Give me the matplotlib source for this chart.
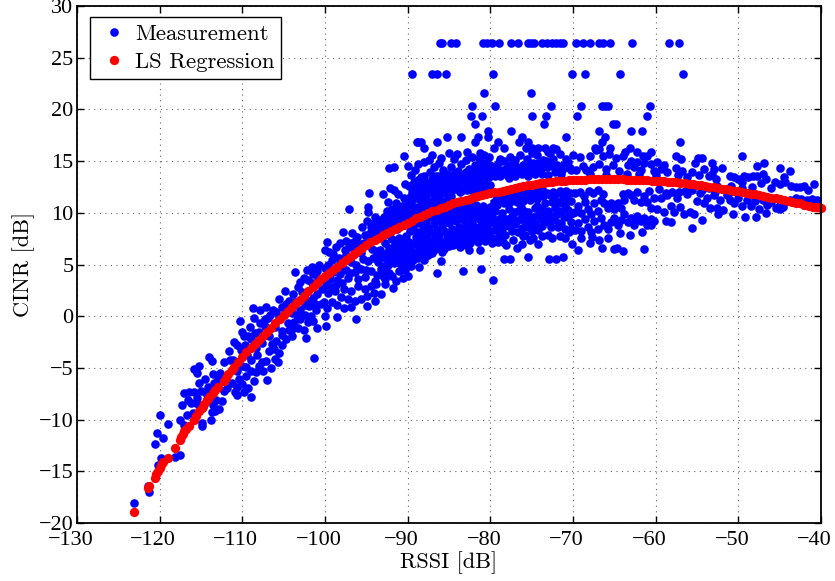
import matplotlib
matplotlib.use("Agg")
import matplotlib.pyplot as plt
from matplotlib.transforms import ScaledTranslation

plt.rcParams['font.family'] = ['cmr10', 'DejaVu Serif']
plt.rcParams['mathtext.fontset'] = 'cm'
plt.rcParams['axes.unicode_minus'] = False
plt.rcParams['axes.formatter.use_mathtext'] = True

top_row_x = [-86.1,-85.8,-84.8,-84.1,-80.9,-80.4,-79.8,-78.9,-77.5,-76.6,-75.5,-75.1,-74.7,-73.8,-73.2,-72.5,-72.0,-71.6,-71.2,-69.6,-68.8,-67.9,-66.8,-66.4,-65.5,-62.9,-58.4,-57.2]
top_row_y = [26.4]*len(top_row_x)
second_row_x = [-89.5,-87.0,-86.5,-85.4,-79.7,-70.1,-68.5,-64.3,-56.7]
second_row_y = [23.4]*len(second_row_x)

outliers = [(-80.8,21.6),(-75.1,21.6),(-82.2,20.3),(-79.4,20.3),(-72.7,20.3),(-69,20.3),(-66.5,20.3),(-66.1,20.3),(-65.8,20.3),(-60.7,20.3),
(-82.3,19.4),(-81,19.4),(-74.9,19.4),(-73.3,19.4),(-69.5,19.4),(-61,19.4),(-81.9,18.6),(-73.5,18.6),(-65.2,18.6),(-64.8,18.6),
(-80.3,17.9),(-77.5,17.9),(-66.8,17.9),(-63,17.9),(-61.7,17.9),(-80.3,17.3),(-81.5,17.3),(-83.6,17.3),(-85.3,17.3),(-76.2,17.3),(-70.9,17.3),(-66.1,17.3),
(-88.7,16.8),(-88.4,16.8),(-86.5,16.8),(-81.8,16.8),(-79.1,16.8),(-76.5,16.8),(-75.4,16.8),(-66.5,16.8),(-57,16.8),(-88,16.3),(-79.6,16.3),(-78.3,16.3),(-75.7,16.3),
(-74.9,16.3),(-74.2,16.3),(-73.4,16.3),(-72.4,16.3),(-72.0,16.2),(-67.3,16.3),(-66.8,16.2),(-65.5,16.3),(-63.1,16.3),(-62.3,15.9),(-63.7,15.9),(-60.6,15.9),(-61.5,15.5)]

low_edge = [(-79.7,3.5),(-90,3.9),(-86.5,4.2),(-83.3,4.4),(-81.1,4.6),(-88.6,4.8),(-90.5,4.9),(-91,5.1),(-86,5.3),(-88,5.4),(-78.4,5.5),(-77.6,5.5),(-75.5,5.7),(-72.9,5.5),(-72,5.5),(-71.2,5.7),
(-69.4,6.4),(-66.5,6.6),(-65,6.5),(-64.7,6.6),(-64,6.3),(-61.4,6.5),(-70.1,7),(-68,7.1),(-74.2,7),(-76.8,6.6),(-76.2,7),(-82.6,6.4),(-81.2,6.4),(-83.7,6.7),(-55.6,8.5),(-54.4,9.3),(-58.1,9.1),(-58.8,9.2),(-64.3,8),(-63.1,7.9),(-61.7,8.1),(-72.6,7.6),(-71,7.6),(-69,7.6),(-67.7,7.7),(-66.9,7.4),(-65.8,7.6),(-89.3,6),(-87.5,5.9),(-84.5,6.9),(-78.5,7.2),(-79.8,7.1),(-74.8,7.6),(-60.2,9.2),(-60.6,8.8),(-62.5,9.4)]

band_a = [(-123.1,-18.06),(-121.4,-16.4),(-121.3,-17),(-120,-9.6),(-119,-10.4),(-120.3,-11.3),(-119.6,-11.8),(-120.6,-12.4),(-119.8,-13.7),(-120.2,-14.4),(-118.1,-13.6),(-117.6,-13.4),
(-117.3,-8.6),(-116.7,-9.6),(-117.5,-10),(-117,-10.5),(-117.1,-7.4),(-116.5,-7.3),(-115.8,-7.3),(-115,-7.2),(-115.3,-6.5),(-114.5,-6.1),(-113.5,-5.6),(-115.8,-5.1),(-115.3,-4.8),(-115.5,-5.5),(-114,-3.9),(-113.7,-4.3),
(-115.6,-8.4),(-115.3,-8.6),(-114.7,-8.8),(-114.3,-8),(-115.5,-7.9),(-114.9,-10.3),(-114.9,-10.6),(-113.8,-10),(-113.3,-9.2),(-112.8,-9),(-112.2,-7.2),(-113.4,-6.5),(-113.7,-9.3),(-113.2,-8.1),(-114.1,-6.8),(-113,-6.1),(-112.2,-4.4),(-111.5,-4.2),(-111,-2.5),
(-110.3,-0.5),(-110,-1.5),(-109.3,-1.9),(-109.7,-2.8),(-108.6,-0.2),(-108.7,0.8),(-107.9,0.6),(-107.1,0.9),(-105.6,1.7),(-104.8,2.4),(-103.6,4.3),(-102.2,4.5),(-101.6,4.8),(-99.7,7.2),(-100,6.4),
(-110.6,-7.6),(-109,-7.8),(-109.8,-7.3),(-110.9,-7.3),(-108.6,-6.3),(-107,-6.2),(-107.5,-5.3),(-105.7,-4.4),(-101.3,-4),(-104,-1.9),(-102.3,-2.1),(-101,-1.1),(-99.9,-0.9),(-98.5,-0.1),(-96.2,-0.3),(-100,0),(-97.7,0.8),(-96.8,0.9),(-94.9,1),(-94,1.5),(-91.8,2.7),(-93.8,3.1),(-92.8,3.1),
(-111.2,-6.5),(-110.7,-6.8),(-110.4,-6.1),(-110,-6.6),(-109.6,-5.8),(-109.3,-6.9),(-110.6,-5.3),(-110.1,-4.8),(-109.5,-4.9),(-109,-5.3),(-108.4,-5.4),(-108,-4.8),(-108.9,-4.2),(-108.2,-3.8),(-107.6,-4.4),(-107.1,-4.3),(-106.5,-5),(-106.1,-4.1),(-106.8,-3.4),(-106.2,-3.2),(-105.6,-3.6),(-105.2,-2.8),(-105.9,-2.4),
(-109.1,-1),(-108.5,-1.6),(-107.9,-0.7),(-107.3,-0.9),(-106.7,0.1),(-106.9,-0.2),(-106.3,0.6),(-105.9,0.4),(-105.2,0.9),(-104.7,1.2),(-104.3,1.5),(-103.9,2.1),(-103.3,2.8),(-103,3.3),(-102.5,3.7),(-102,3.5),(-101.5,4.1),(-101,4.4),
(-105.2,-1.8),(-104.7,-2.2),(-104.3,-1.3),(-103.8,-0.6),(-103.3,-1.1),(-103,-0.3),(-102.6,-1.3),(-102.1,-0.6),(-101.7,0),(-101.4,-0.5),(-104.5,-0.7),(-104,0.3),(-103.4,0.1),(-103,0.6),(-102.4,1.1),(-101.9,1),(-101.5,1.8),(-101,2.1),(-100.5,1.2),(-100.1,1.4),(-99.7,0.8),(-101.1,0.6)]

band_a2 = [(-111.6,-3.4),(-111.1,-4.2),(-110.7,-2.8),(-110.2,-3.3),(-109.8,-1.9),(-109.4,-3.8),(-108.9,-2.2),(-108.4,-3.1),(-108,-1.5),(-107.6,-2.6),(-107.2,-0.3),(-106.8,-1.9),(-106.4,-2.7),(-106,-1),(-105.6,-0.1),(-105.2,-1.4),(-104.8,0.3),(-104.4,1),(-104,-1.2),(-103.6,1.4),(-103.2,-0.1),(-102.8,2.3),(-102.4,0.1),(-102,1.5),(-101.6,3.2),(-101.2,1.2),(-100.8,3.6),(-100.4,2.6),(-100,4.7),(-99.9,3),(-100.7,5),(-99.6,5),(-99.1,2.8),(-98.7,3),(-98.3,5),(-97.9,4.8),(-97.4,5.9),(-97,4.2),(-96.6,5.9),(-96.2,5),(-95.8,7),(-95.4,5.5),(-95,4.5),(-94.6,7.5),(-94.2,5.6),(-93.8,6.3),(-93.4,8),(-93,3.9),(-92.6,4.4),(-92.2,7.9),(-91.8,6.2),(-91.4,5.8),(-91,7),(-90.6,9.8),(-90.2,6.9),(-89.8,7.2),(-99,6),(-98.2,7.1),(-97.6,6.4),(-96.8,7.1),(-96.1,7.7),(-95.3,7.1),(-94.6,8),(-114.4,-7.4),(-113.8,-7),(-112.7,-5.5),(-112.4,-8.2),(-111.8,-6.9),(-113.6,-8.6),(-116.2,-8.4),(-116,-9.4),(-116.6,-8.1)]

band_b = [(-99.5,6.2),(-99.2,5.4),(-98.7,6.7),(-98.3,5.6),(-97.8,8.1),(-97.5,7.3),(-97.1,6.7),(-97.1,10.4),(-96.7,8),(-96.4,7.3),(-96,6.4),(-95.5,8.6),(-95.2,7.9),(-94.9,9.2),(-94.8,10.6),(-94.8,10.1),(-94.7,11.9),(-94.4,8.6),(-94,8.3),(-93.6,9.1),(-93.3,8.6),(-93,11.8),(-92.9,9.6),(-92.5,10.2),(-92.2,14.3),(-91.7,14.4),(-92.1,12.4),(-91.6,12.2),(-91.2,11.8),(-90.5,15.5),(-90,14.5),(-90.3,12.8),(-89.8,12.6),(-92.4,11),(-91.9,10.4),(-91.4,10.9),(-90.9,10.2),(-90.4,11.4),(-90.1,10.8),(-91.2,9.8),
(-99.6,2.2),(-99.2,1.4),(-98.8,2.4),(-98.5,1.1),(-98.1,1.9),(-97.7,2.6),(-97.2,1.7),(-96.8,2.4),(-96.4,1.5),(-96,2.9),(-95.6,1.7),(-95.2,2.6),(-94.9,2),(-94.4,2.9),(-94.1,2.2),(-93.7,4),(-93.2,2.1),(-92.7,3.6),(-92.3,4.2),(-91.9,3.9),(-91.4,3.4),(-91,4.4),(-90.6,3.7),(-90.3,4.5),(-89.9,5.1),
(-99.4,3.6),(-99,4.3),(-98.6,3.5),(-98.2,4.1),(-97.9,3.2),(-97.5,4.5),(-97.2,3.7),(-96.8,5.2),(-96.4,4.3),(-96,3.6),(-95.6,4.6),(-95.2,3.8),(-94.8,5.3),(-94.4,4.4),(-94,3.4),(-93.6,5.2),(-93.2,4.6),(-92.8,5.6),(-92.4,5),(-92,5.9),(-91.6,5.1),(-91.2,6.1),(-90.8,5.5),(-90.4,6.4),(-90,6.2),
(-96.5,6.7),(-95.6,6.1),(-95,6.9),(-94.3,6.5),(-93.8,7.7),(-93.3,6.4),(-92.7,7.1),(-92.3,6.6),(-91.9,7.5),(-91.5,7),(-91,7.6),(-90.6,7.2),(-90.2,7.8),(-92.9,8.2),(-92.4,8.6),(-91.8,8.9),(-91.3,8.4),(-90.7,8.8),(-90.3,9.2),(-89.8,9.6),(-92,9.6),(-90.9,9.5),(-91.5,9.2),
(-89.7,11.5),(-89.5,12),(-89.2,13),(-89.1,14.1),(-88.9,16.8),(-88.7,14.7),(-88.4,13.5),(-88,14.9),(-87.7,12.7),(-87.3,13.9),(-87.1,15.6),(-86.8,14.4),(-86.4,13.2),(-86,15.3),(-85.7,14.1)]

band_c = [(-89.6,4.9),(-89.3,7),(-89.1,6.2),(-88.8,5.6),(-88.5,7.3),(-88.2,6.4),(-87.9,7.6),(-87.6,6.6),(-87.3,7),(-87,6.1),(-86.7,7.7),(-86.3,6.8),(-85.9,7.2),(-85.6,6.5),(-85.3,7.6),(-84.9,7.1),(-84.5,7.8),(-84.1,7.4),(-83.7,7.9),(-83.2,7.4),(-82.8,7.7),(-82.4,7.1),(-82,7.6),(-81.5,7.2),(-81,7.7),(-80.6,7.3),(-80.2,7.9),
(-89.7,8.2),(-89.3,8.6),(-88.9,8.1),(-88.6,9),(-88.2,8.4),(-87.8,9.1),(-87.5,8.5),(-87.2,9.6),(-86.8,8.9),(-86.5,8.3),(-86.1,9.2),(-85.8,8.6),(-85.4,9.7),(-85,9),(-84.6,8.4),(-84.2,9.2),(-83.8,8.6),(-83.4,9.4),(-83,8.8),(-82.6,8.4),(-82.2,9.1),(-81.8,8.6),(-81.4,9.4),(-81,8.9),(-80.6,8.4),(-80.2,9.1),
(-89.5,10.1),(-89.1,10.6),(-88.8,9.9),(-88.4,11),(-88.1,10.2),(-87.8,11.3),(-87.4,10.7),(-87,11.1),(-86.7,10.4),(-86.3,11.5),(-85.9,10.4),(-85.5,11.9),(-85.1,10.3),(-84.7,11.6),(-84.3,10.2),(-83.9,10.6),(-83.5,10.1),(-83.1,10.5),(-82.7,10.1),(-82.3,10.5),(-81.9,9.9),(-81.5,10.4),(-81.1,9.9),(-80.7,10.4),(-80.3,10),
(-89.3,12.7),(-89,11.9),(-88.6,12.2),(-88.2,12.9),(-87.9,12.1),(-87.1,12.5),(-86.6,12.8),(-86.2,12.2),(-85.7,12.7),(-85.3,12.4),(-85,13.5),(-84.6,12.6),(-84.2,13),(-83.8,12.5),(-83.4,13.6),(-83,12.8),(-82.6,13.3),(-82.2,12.6),(-81.8,13.7),(-81.4,13),(-81,13.6),(-80.6,12.8),(-80.2,13.5),
(-85.3,13.8),(-84.8,14.4),(-84.4,15.2),(-83.9,14),(-83.5,14.7),(-83,15.1),(-82.6,14.2),(-82.2,15.4),(-81.8,14.6),(-81.4,15.3),(-81,14.1),(-80.6,14.8),(-80.2,15.4),(-84,15.7),(-82.8,15.9),(-81.3,15.8),(-80.8,15.6),(-85,15.8),(-86.2,14.8),(-87.4,15.1)]

band_c2 = [(-89.4,5.5),(-89,7.7),(-88.6,6.9),(-88.3,8),(-88,5.9),(-87.7,7.9),(-87.4,6.3),(-87,8.1),(-86.6,7.3),(-86.2,7.9),(-85.8,6.2),(-85.4,8.1),(-85,6.8),(-84.7,7.3),(-84.3,8.2),(-83.9,7.1),(-83.5,8.1),(-83,6.9),(-82.6,8),(-82.2,7.4),(-81.8,8),(-81.3,7.7),(-80.9,8.1),(-80.4,7.6),
(-89.5,9.2),(-89,9.6),(-88.7,10.4),(-88.3,9.6),(-87.9,9.9),(-87.6,9.8),(-87.2,10.2),(-86.9,9.6),(-86.5,9.7),(-86.2,10),(-85.7,9.3),(-85.2,9.6),(-84.8,9.9),(-84.4,9.5),(-84,9.9),(-83.6,9.8),(-83.2,9.3),(-82.9,9.8),(-82.5,9.6),(-82.1,9.5),(-81.7,9.7),(-81.3,8.3),(-80.9,9.5),(-80.5,9.8),(-80.1,9.4),
(-88.9,11.4),(-88.5,11.7),(-88,11.6),(-87.5,11.9),(-87,12),(-86.5,12),(-85.9,11.9),(-85.6,12.2),(-85.1,12.1),(-84.7,12.1),(-84.2,12.3),(-83.7,12),(-83.3,12.2),(-82.8,12.2),(-82.3,12.2),(-81.9,12.3),(-81.5,12.4),(-81,12.5),(-80.5,12.5),(-80,12.7),
(-89.6,13.7),(-88.8,13.2),(-88,13.6),(-87,13.3),(-86.2,13.6),(-85.5,13.1),(-84.4,13.8),(-83,13.9),(-82.2,13.9),(-81.4,13.9),(-80.4,14.1)]

band_c3 = [(-94.3,8.9),(-93.9,9.6),(-93.4,9.3),(-93,8.9),(-92.6,9.1),(-92.2,8.9),(-91.7,9.8),(-91.1,10.4),(-90.7,10.7),(-90.4,10),(-90,10),(-89.6,11),(-89.2,11.4),(-88.9,12.5),(-88.4,12.6),(-87.9,13),(-87.5,12.4),(-87,13),(-86.6,13.6),(-86.1,13),(-85.6,13.4),(-85.2,13),(-84.6,13.3),(-84.1,13.4),(-83.7,13.2),(-83.2,13.6),(-82.8,13.5),(-82.4,13.9),(-81.9,13.2),(-81.6,14.2),(-81.1,14.7),(-80.5,13.5),(-80.1,14.6),
(-93.5,5.7),(-93.1,6),(-92.9,4.9),(-92.5,6.1),(-92.1,5.2),(-91.7,6.5),(-91.3,5.3),(-90.9,6.5),(-90.5,5.9),(-90.1,5.6),(-89.7,6.5),(-89.3,5.4),(-88.9,7),(-88.6,6.2),(-88.2,7),(-87.8,6.9),(-87.5,7.4),(-87.2,6.5),(-86.8,6.4),(-86.4,7.3),(-86,6.7),(-85.6,7.1),(-85.2,7.3),(-84.8,8.1),(-84.2,7.7),(-83.8,8.3),(-83.4,7.8),(-82.9,8.3),(-82.5,7.8),(-82.1,8.3),(-81.6,8),(-81.2,8.6),(-80.8,7.8),(-80.4,8.7),(-80,8.2),
(-89.8,10.4),(-89.4,9.6),(-88.9,10.2),(-88.5,10.4),(-88,10.7),(-87.6,10.3),(-87.2,10.9),(-86.8,11.3),(-86.4,10.8),(-86,11.1),(-85.6,9.9),(-85.2,11.2),(-84.9,10.9),(-84.5,9.9),(-84.1,10.4),(-83.7,9.5),(-83.3,10.8),(-82.9,10.3),(-82.5,10.8),(-82.1,10.2),(-81.7,10.8),(-81.3,10.1),(-80.9,10.7),(-80.5,10.1),(-80.1,10.6)]

band_d = [(-79.8,7.6),(-79.4,8.3),(-79,7.8),(-78.6,8.4),(-78.2,7.9),(-77.8,8.7),(-77.4,8.2),(-77,8.9),(-76.6,8.1),(-76.2,8.5),(-75.8,7.9),(-75.4,8.6),(-75,8.2),(-74.6,8.9),(-74.2,8.3),(-73.8,8.7),(-73.4,9.3),(-73,9.1),(-72.6,9.7),(-72.2,9.3),(-71.8,8.6),(-71.4,9),(-71,8.4),(-70.6,9.6),(-70.2,9.1),
(-79.8,9.6),(-79.4,10.2),(-79,9.4),(-78.6,10),(-78.2,9.4),(-77.8,10.4),(-77.4,9.7),(-77,9.2),(-76.6,10.2),(-76.2,9.6),(-75.8,9.1),(-75.4,10.1),(-75,9.5),(-74.6,10.5),(-74.2,9.8),(-73.8,10.4),(-73.4,10.9),(-73,10.2),(-72.6,11),(-72.2,10.5),(-71.8,10.9),(-71.4,10.2),(-71,10.8),(-70.6,10.3),(-70.2,11.1),
(-79.6,11),(-79.2,10.8),(-78.8,11.1),(-78.4,10.9),(-78,11.2),(-77.6,11),(-77.2,11.3),(-76.8,11),(-76.4,11.5),(-76,11.1),(-75.6,11.6),(-75.2,11.2),(-74.8,11.6),(-74.4,11.3),(-74,11.7),(-73.6,11.6),(-73.2,11.9),(-72.8,11.7),(-72.4,12),(-72,11.8),(-71.6,12.1),(-71.2,11.7),(-70.8,12.1),(-70.4,11.9),
(-79.6,13.9),(-79.2,14.6),(-78.8,13.6),(-78.4,15),(-78,14.3),(-77.6,15.4),(-77.2,13.9),(-76.8,14.4),(-76.4,15.6),(-76,14.6),(-75.6,15.2),(-75.2,14),(-74.8,14.8),(-74.4,15.6),(-74,14.2),(-73.6,15.1),(-73.2,14.4),(-72.8,15.8),(-72.4,15.2),(-72,14.1),(-71.6,15.7),(-71.2,14.6),(-70.8,15.2),(-70.4,14.3),(-70,15.6),(-70.6,14.9),(-78.8,15.2),(-77,15.1),(-75,15.8),(-73,15.9),
(-79.4,13.6),(-78.6,13.9),(-77.8,13.4),(-77,13.6),(-76.2,13.8),(-75.4,13.6),(-74.6,13.8),(-73.8,13.8),(-73,13.7),(-72.2,13.9),(-71.4,13.8)]

band_d2 = [(-79.6,9),(-79.1,8.8),(-78.7,9.1),(-78.3,8.7),(-77.9,9.4),(-77.5,8.9),(-77.1,10.1),(-76.7,9.3),(-76.3,10.6),(-75.9,10.2),(-75.5,9.4),(-75.1,8.9),(-74.7,9.6),(-74.3,10.7),(-73.9,9.4),(-73.5,10.1),(-73.1,9.6),(-72.7,8.6),(-72.3,11.3),(-71.9,9.9),(-71.5,11.1),(-71.1,9.6),(-70.7,11.2),(-70.3,8.4),(-70,10),(-79.3,11.7),(-78.9,11.9),(-78.5,11.6),(-78.1,11.8),(-77.7,11.9),(-77.3,11.8),(-76.9,11.9),(-76.5,12),(-76.1,12.1),(-75.7,12.2),(-75.3,12),(-74.9,12.1),(-74.5,12.2),(-74.1,12.4),(-73.7,12.3),(-79.1,7.2),(-78.1,6.9),(-77.2,7.4),(-76.1,7.8),(-75.2,7.4),(-73.7,7.8),(-73,7.9),(-71.6,7.8),(-70.5,8.1),
(-79.4,14.2),(-79,14.9),(-78.5,14.1),(-78,13.7),(-77.6,14.6),(-77.1,14.7),(-76.6,13.9),(-76.1,14.1),(-75.6,14.5),(-75.1,14.3),(-74.6,14.2),(-74.2,14.8),(-73.7,14.4),(-73.1,15),(-72.5,14.5),(-71.9,14.6),(-71.3,14.1),(-70.7,14.4),(-70.2,14.1)]

band_e = [(-69.8,8.3),(-69.4,9),(-69,8.2),(-68.6,9.4),(-68.2,8.6),(-67.8,8.1),(-67.4,9.2),(-67,8.4),(-66.6,9.5),(-66.2,8.8),(-65.8,8.4),(-65.4,9.1),(-65,9.5),(-64.6,8.8),(-64.2,9.3),(-63.8,9.9),(-63.4,9.1),(-63,9.5),(-62.6,8.8),(-62.2,9.7),(-61.8,9.2),(-61.4,9.5),(-61,8.8),(-60.6,9.4),
(-69.8,10.1),(-69.4,10.7),(-69,10),(-68.6,11),(-68.2,10.4),(-67.8,9.9),(-67.4,10.9),(-67,10.2),(-66.6,11.2),(-66.2,10.9),(-65.8,10.5),(-65.4,10.9),(-65,10.4),(-64.6,10.9),(-64.2,10.5),(-63.8,11.2),(-63.4,11.9),(-63,11.7),(-62.6,11.2),(-62.2,12),(-61.8,11),(-61.4,11.6),(-61,11),(-60.6,10.5),(-60.2,11.4),
(-69.7,11.9),(-69.1,12),(-68.7,11.6),(-68.1,12.1),(-67.6,11.9),(-67,12.2),(-66.4,11.8),(-64,11.8),(-60.8,12.1),
(-69.6,14.1),(-69.2,15.4),(-68.8,14.5),(-68.4,14.1),(-68,15.5),(-67.6,14.4),(-67.2,16.1),(-66.8,14.7),(-66.4,15.5),(-66,14.2),(-65.6,15.7),(-65.2,14.6),(-64.8,15.3),(-64.4,14),(-64,15.5),(-63.4,14.6),(-63,15),(-62.6,14.4),(-62.2,14.9),(-61.8,14.1),(-61.4,14.8),(-61,15.5),(-60.6,14.7),(-60.2,14),(-59.8,14.9),(-59.4,14.2),(-59,14.6),(-58.6,13.9),(-68,13.8),(-66,13.7),(-63.5,13.8),(-62,13.8),(-60,13.7)]

band_f = [(-57.6,15.5),(-56.9,15.2),(-57.5,14.3),(-56.8,14),(-57.3,13.7),(-55.2,14.8),(-54.4,15.3),(-54.9,15.3),(-53.2,14.8),(-53,14.2),(-52,14.3),(-49.6,15.5),(-47.7,14.5),(-46.9,14.8),(-44.9,14.3),(-43.8,14),(-40.9,12.8),(-40.5,11.2),(-41.6,12.2),(-42,12.6),(-46.6,10),(-44.9,10.4),(-44.6,10.6),(-47.9,9.6),(-49.2,9.6),(-50.7,9.9),(-52.4,9.9),
(-59.8,10.4),(-59.4,11.4),(-59,10.1),(-58.6,11.7),(-58.2,10.7),(-57.8,10.1),(-57.4,11.4),(-57,10.6),(-56.6,9.9),(-56.2,11.8),(-55.8,10.1),(-55.4,9.9),(-55,11.1),(-54.6,11.9),(-54.2,10.9),(-53.8,11.4),(-53.4,10.5),(-53,11.7),(-52.6,10.5),(-52.2,11.2),(-51.8,10.3),(-51.4,11.7),(-51,12),
(-59.6,12.3),(-58.8,11.9),(-58,12),(-57.2,12),(-56.4,12.1),(-55.6,12.2),(-54.4,12.2),(-53.6,12.4),(-52.8,12),(-52.6,12.6),
(-56.2,13.5),(-55.6,13.9),(-54.8,13.7),(-54.2,14.2),(-53.6,13.6),(-53.2,13.8),(-52.7,13.3),(-51,13.6),(-50.5,13.5),(-50.1,13.3),(-49.6,13),(-49.3,13.6),(-48.8,13.5),(-48.2,13.6),(-47.7,13.6),(-47,13.8),(-46.7,13.3),(-45.6,13),(-45,12.8),(-44.5,13.5),(-44.3,13),(-43.6,12.6),(-43,12.5),(-42.5,12.5),(-47.3,12.9),(-48.4,12.5),(-46,12.4),(-50.9,12.6),(-49.5,12.4),
(-51,11.2),(-50.5,10.9),(-50,11.4),(-49.5,10.7),(-49,11.2),(-48.5,10.7),(-48,11.1),(-47.5,10.4),(-47,11.2),(-46.5,10.8),(-46,11),(-45.5,10.5),(-45,10.8),(-44.3,11),(-43.7,11.2),(-43,11.4),(-42.4,11.3),(-41.7,11.2),(-41.1,11.3)]

ls_low = [(-123.1,-18.9),(-121.4,-16.6),(-121.3,-16.4),(-120.6,-15.6),(-120.4,-15.3),(-120.2,-15.0),(-120.0,-14.7),(-119.8,-14.4),(-119.6,-14.1),(-119.0,-13.7),(-118.1,-12.7),(-117.6,-12.0),(-117.4,-11.7),(-117.2,-11.4),(-117.0,-11.1),(-116.8,-10.9),(-116.5,-10.6),(-115.8,-10.0),(-115.6,-9.7),(-115.2,-9.2),(-114.9,-8.9),(-114.6,-8.5),(-114.3,-8.1),(-114.0,-7.8),(-113.6,-7.4),(-113.3,-7.1),(-112.9,-6.8),(-112.2,-6.3),(-112.0,-6.0),(-111.7,-5.6),(-111.3,-5.2),(-111.0,-4.9)]
ls_rise = [(-110.5,-4.4),(-110,-3.9),(-109.5,-3.5),(-109,-3.1),(-108.5,-2.7),(-108,-2.3),(-107.5,-1.9),(-107,-1.5),(-106.5,-1.1),(-106,-0.7),(-105.5,-0.3),(-105,0.1),(-104.5,0.5),(-104,0.9),(-103.5,1.25),(-103,1.6),(-102.5,2.0),(-102,2.4),(-101.5,2.8),(-101,3.2),(-100.5,3.55),(-100,3.9),(-99.5,4.2),(-99,4.5),(-98.5,4.8),(-98,5.1),(-97.5,5.4),(-97,5.7),(-96.5,6.0),(-96,6.3),(-95.5,6.6),(-95,6.9),(-94.5,7.15),(-94,7.4),(-93.5,7.6),(-93,7.85),(-92.5,8.05),(-92,8.25),(-91.5,8.45),(-91,8.65),(-90.5,8.85),(-90,9.05)]
ls_top = [(-89.5,9.25),(-89,9.45),(-88.5,9.6),(-88,9.8),(-87.5,10.0),(-87,10.15),(-86.5,10.3),(-86,10.45),(-85.5,10.6),(-85,10.75),(-84.5,10.9),(-84,11.0),(-83.5,11.15),(-83,11.25),(-82.5,11.35),(-82,11.5),(-81.5,11.6),(-81,11.7),(-80.5,11.8),(-80,11.9),(-79.5,12.0),(-79,12.05),(-78.5,12.15),(-78,12.25),(-77.5,12.3),(-77,12.4),(-76.5,12.5),(-76,12.55),(-75.5,12.65),(-75,12.7),(-74.5,12.8),(-74,12.85),(-73.5,12.9),(-73,12.95),(-72.5,13.0),(-72,13.05),(-71.5,13.1),(-71,13.1),(-70.5,13.15),(-70,13.15),(-69.5,13.2),(-69,13.2),(-68.5,13.2),(-68,13.25),(-67.5,13.25),(-67,13.25),(-66.5,13.25),(-66,13.25),(-65.5,13.25),(-65,13.25),(-64.5,13.25),(-64,13.25),(-63.5,13.2),(-63,13.2),(-62.5,13.2),(-62,13.2),(-61.5,13.15),(-61,13.15),(-60.5,13.1),(-60,13.1)]
ls_fall = [(-59.5,13.05),(-59,13.05),(-58.5,13.0),(-58,13.0),(-57.5,12.95),(-57,12.9),(-56.5,12.85),(-56,12.8),(-55.5,12.75),(-55,12.7),(-54.5,12.65),(-54,12.6),(-53.5,12.5),(-53,12.45),(-52.5,12.4),(-52,12.35),(-51.5,12.3),(-51,12.2),(-50.5,12.15),(-50,12.1),(-49.5,12.0),(-49,11.95),(-48.5,11.85),(-48,11.8),(-47.5,11.7),(-47,11.65),(-46.5,11.55),(-46,11.45),(-45.5,11.4),(-45,11.3),(-44.5,11.2),(-44,11.1),(-43.5,11.05),(-43,10.95),(-42.5,10.9),(-42,10.8),(-41.5,10.7),(-41,10.6),(-40.5,10.55),(-40,10.45)]

x_ticks = [-130,-120,-110,-100,-90,-80,-70,-60,-50,-40]
y_ticks = [-20,-15,-10,-5,0,5,10,15,20,25,30]

clouds = [outliers, low_edge, band_a, band_a2, band_b, band_c, band_c2, band_c3, band_d, band_d2, band_e, band_f]
meas_x = list(top_row_x) + list(second_row_x)
meas_y = list(top_row_y) + list(second_row_y)
for c in clouds:
    meas_x += [p[0] for p in c]
    meas_y += [p[1] for p in c]
ls_pts = ls_low + ls_rise + ls_top + ls_fall
ls_x = [p[0] for p in ls_pts]
ls_y = [p[1] for p in ls_pts]

def tick_text(v):
    return str(v).replace('-', '\u2212')

fig = plt.figure(figsize=(8.35, 5.81), dpi=100)
ax = fig.add_axes([77/835, 1-523/581, 744/835, 517/581])
ax.plot(meas_x, meas_y, 'o', color='#0000ff', ms=6.2, mew=0, label='Measurement', clip_on=False)
ax.plot(ls_x, ls_y, 'o', color='#ff0000', ms=6.7, mew=0, label='LS Regression', clip_on=False)
ax.set_xlim(-130, -40)
ax.set_ylim(-20, 30)
ax.set_xticks(x_ticks)
ax.set_yticks(y_ticks)
ax.set_xticklabels([tick_text(v) for v in x_ticks], fontsize=16, family='Liberation Serif')
ax.set_yticklabels([tick_text(v) for v in y_ticks], fontsize=16, family='Liberation Serif')
ax.tick_params(direction='in', length=5, width=1, top=True, right=True)
ax.tick_params(axis='x', pad=6)
ax.tick_params(axis='y', pad=2.5)
shift = ScaledTranslation(-6.5/100, 0, fig.dpi_scale_trans)
for lab in ax.get_xticklabels():
    lab.set_transform(lab.get_transform() + shift)
ax.grid(True, linestyle=(0, (1, 4)), color='#666666', linewidth=0.8)
ax.set_axisbelow(True)
for s in ax.spines.values():
    s.set_linewidth(1.3)
ax.set_xlabel('RSSI [dB]', fontsize=16, labelpad=0.5)
ax.set_ylabel('CINR [dB]', fontsize=16, labelpad=2.5)
leg = ax.legend(loc='upper left', bbox_to_anchor=(13/744, 1-11/517), borderaxespad=0, fancybox=False,
                framealpha=1, edgecolor='black', fontsize=16.4, borderpad=0.3, labelspacing=0.38,
                handlelength=1.5, handletextpad=0.17, numpoints=1)
leg.get_frame().set_linewidth(1.0)
fig.savefig('out.png', dpi=100)
